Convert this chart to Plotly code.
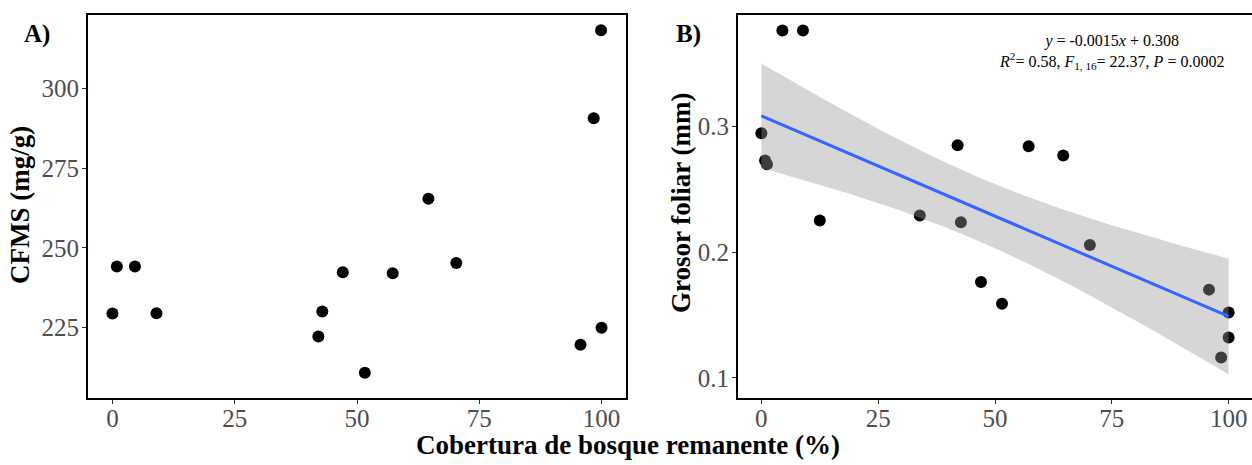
import numpy as np
import plotly.graph_objects as go

# Panel A data: CFMS (mg/g) vs forest cover (%)
cover_a = [0, 0.9, 4.6, 9.0, 42.1, 42.9, 47.1, 51.6, 57.3, 64.6, 70.3, 95.7, 98.4, 99.9, 100]
cfms = [229.4, 244.1, 244.1, 229.5, 222.2, 230.0, 242.3, 210.8, 242.0, 265.4, 245.2, 219.6, 290.6, 318.2, 224.9]

# Panel B data: leaf thickness (mm) vs forest cover (%)
cover_b = [0, 0.8, 1.2, 4.5, 8.9, 12.5, 33.9, 42.0, 42.7, 47.0, 51.5, 57.2, 64.6, 70.3, 95.8, 98.4, 100, 100]
grosor = [0.2948, 0.273, 0.270, 0.3765, 0.3765, 0.2253, 0.2293, 0.2851, 0.2239, 0.1762, 0.1590, 0.2843, 0.2770, 0.2057, 0.1702, 0.1162, 0.1520, 0.1320]

x_ticks = [0, 25, 50, 75, 100]
ya_ticks = [225, 250, 275, 300]
yb_ticks = [0.1, 0.2, 0.3]

eq_text = ("<i>y</i> = -0.0015<i>x</i> + 0.308<br>"
           "<i>R</i><sup>2</sup>= 0.58, <i>F</i><sub>1, 16</sub>= 22.37, <i>P</i> = 0.0002")

# linear fit with 95% confidence band (like geom_smooth(method = "lm"))
X = np.array(cover_b, dtype=float)
Y = np.array(grosor, dtype=float)
n = len(X)
slope, intercept = np.polyfit(X, Y, 1)
xs = np.linspace(X.min(), X.max(), 100)
fit = intercept + slope * xs
resid = Y - (intercept + slope * X)
s = np.sqrt(np.sum(resid ** 2) / (n - 2))
sxx = np.sum((X - X.mean()) ** 2)
se = s * np.sqrt(1.0 / n + (xs - X.mean()) ** 2 / sxx)
tval = 2.1199
upper = fit + tval * se
lower = fit - tval * se

FONT = "Liberation Serif"
fig = go.Figure()

fig.add_trace(go.Scatter(x=cover_a, y=cfms, mode="markers",
                         marker=dict(color="black", size=12),
                         xaxis="x", yaxis="y", showlegend=False))

fig.add_trace(go.Scatter(x=cover_b, y=grosor, mode="markers",
                         marker=dict(color="black", size=12),
                         xaxis="x2", yaxis="y2", showlegend=False))
fig.add_trace(go.Scatter(x=np.concatenate([xs, xs[::-1]]),
                         y=np.concatenate([upper, lower[::-1]]),
                         fill="toself", fillcolor="rgba(153,153,153,0.4)",
                         line=dict(width=0), mode="lines", hoverinfo="skip",
                         xaxis="x2", yaxis="y2", showlegend=False))
fig.add_trace(go.Scatter(x=xs, y=fit, mode="lines",
                         line=dict(color="#3366FF", width=3),
                         xaxis="x2", yaxis="y2", showlegend=False))

tickfont = dict(family=FONT, size=25, color="#4D4D4D")
common_x = dict(range=[-5, 105], tickvals=x_ticks, showgrid=False, zeroline=False,
                showline=True, linecolor="black", linewidth=2, ticks="outside",
                ticklen=4, tickcolor="#333333", tickfont=tickfont,
                ticklabelstandoff=-7)
common_y = dict(domain=[0, 1], showgrid=False, zeroline=False, showline=True,
                linecolor="black", linewidth=2, ticks="outside", ticklen=4,
                tickcolor="#333333", tickfont=tickfont, ticklabelstandoff=-2)

fig.update_layout(
    width=1252, height=465,
    margin=dict(l=0, r=0, t=15, b=67),
    paper_bgcolor="white", plot_bgcolor="white",
    font=dict(family=FONT),
    xaxis=dict(domain=[88 / 1252, 626 / 1252], anchor="y", mirror=True, **common_x),
    yaxis=dict(anchor="x", range=[202.9, 323.0], tickvals=ya_ticks, mirror=True, **common_y),
    xaxis2=dict(domain=[738 / 1252, 1.0], anchor="y2", mirror=True, **common_x),
    yaxis2=dict(anchor="x2", range=[0.0839, 0.3889], tickvals=yb_ticks, tickformat=".1f",
                mirror=False, **common_y),
    annotations=[
        dict(text="<b>A)</b>", x=37, y=34, xref="paper", yref="paper", showarrow=False,
             font=dict(family=FONT, size=25, color="black")),
        dict(text="<b>B)</b>", x=688, y=34, xref="paper", yref="paper", showarrow=False,
             font=dict(family=FONT, size=25, color="black")),
        dict(text="<b>CFMS (mg/g)</b>", x=20, y=205, textangle=-90, xref="paper", yref="paper",
             showarrow=False, font=dict(family=FONT, size=27, color="black")),
        dict(text="<b>Grosor foliar (mm)</b>", x=681, y=203, textangle=-90, xref="paper",
             yref="paper", showarrow=False, font=dict(family=FONT, size=27, color="black")),
        dict(text="<b>Cobertura de bosque remanente (%)</b>", x=628, y=445, xref="paper",
             yref="paper", showarrow=False, font=dict(family=FONT, size=27, color="black")),
        dict(text=eq_text, x=1111, y=52, xref="paper", yref="paper", showarrow=False,
             align="center", font=dict(family=FONT, size=16, color="black")),
    ],
)

# convert pixel positions of annotations to paper coordinates
W, H = 1252, 465
pl, pr, pt, pb = 0, 0, 15, 67
for a in fig.layout.annotations:
    a.x = (a.x - pl) / (W - pl - pr)
    a.y = 1 - (a.y - pt) / (H - pt - pb)
    a.xanchor = "center"
    a.yanchor = "middle"

fig.write_html("out.html")
